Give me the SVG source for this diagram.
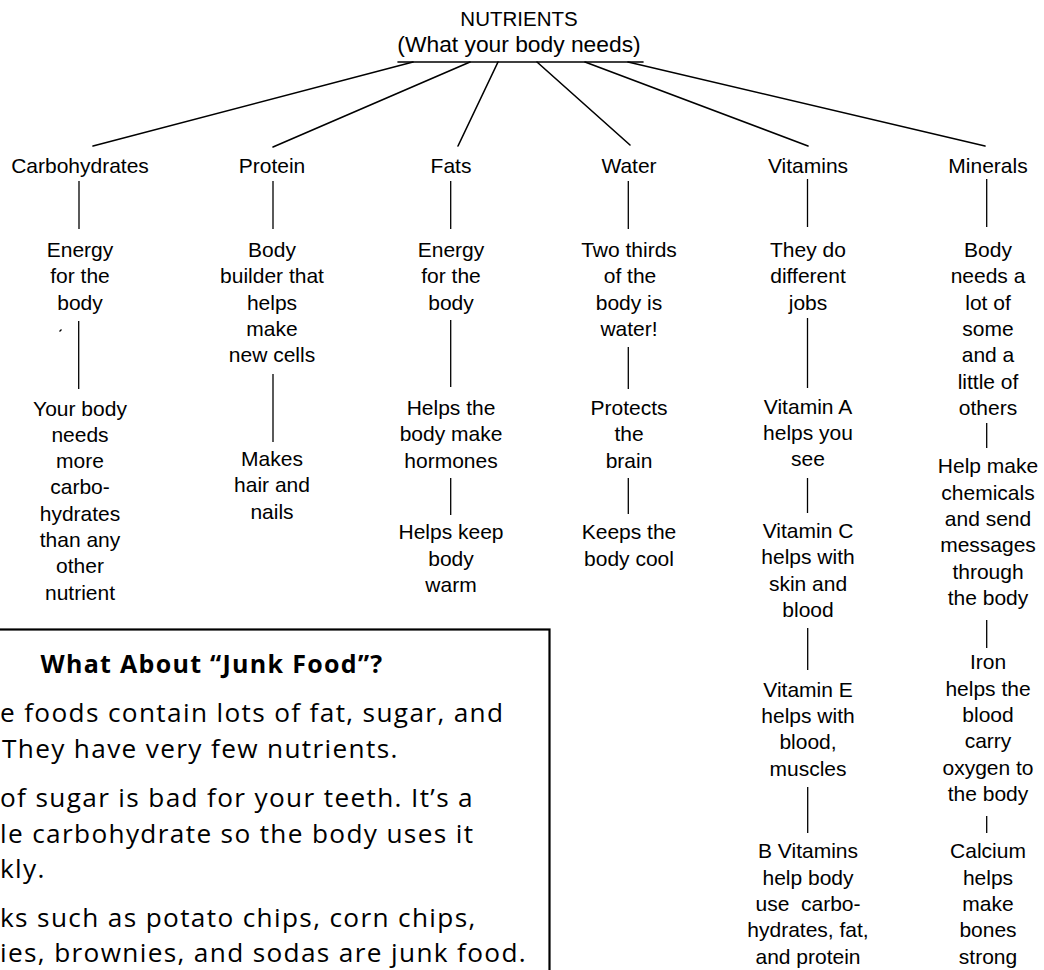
<svg xmlns="http://www.w3.org/2000/svg" width="1044" height="970" viewBox="0 0 1044 970">
<style>
  .lbl { font-family: "Liberation Sans", Arial, sans-serif; font-size: 21px; fill: #000; text-anchor: middle; }
  .ttl { font-family: "Liberation Sans", Arial, sans-serif; fill: #000; text-anchor: middle; }
  .ln { stroke: #000; stroke-width: 1.6; fill: none; stroke-linecap: round; }
  .vl { stroke: #000; stroke-width: 1.3; fill: none; }
  .box { font-family: "Open Sans", "Noto Sans", sans-serif; font-size: 26.2px; letter-spacing: 1.35px; fill: #000; }
  .boxt { font-family: "Open Sans", "Noto Sans", sans-serif; font-size: 25px; letter-spacing: 1.3px; font-weight: bold; fill: #000; text-anchor: middle; }
</style>
<rect width="1044" height="970" fill="#fff"/>

<g id="root">
  <text class="ttl" x="519" y="26" font-size="20.5">NUTRIENTS</text>
  <text class="ttl" x="519" y="52" font-size="22.8">(What your body needs)</text>
  <line class="ln" x1="398" y1="62" x2="643" y2="62"/>
</g>

<g id="connectors">
  <line class="ln" x1="413" y1="62" x2="93" y2="146"/>
  <line class="ln" x1="470" y1="62" x2="273" y2="147"/>
  <line class="ln" x1="498" y1="62" x2="458" y2="146"/>
  <line class="ln" x1="537" y1="62" x2="630" y2="145"/>
  <line class="ln" x1="585" y1="62" x2="808" y2="146"/>
  <line class="ln" x1="628" y1="62" x2="985" y2="146"/>

  <line class="vl" x1="79" y1="181" x2="79" y2="229"/>
  <line class="vl" x1="78.7" y1="321" x2="78.7" y2="389"/>

  <line class="vl" x1="273" y1="181" x2="273" y2="229"/>
  <line class="vl" x1="273" y1="374" x2="273" y2="442"/>

  <line class="vl" x1="450.7" y1="181" x2="450.7" y2="229"/>
  <line class="vl" x1="450.7" y1="320" x2="450.7" y2="387"/>
  <line class="vl" x1="450.7" y1="478" x2="450.7" y2="515"/>

  <line class="vl" x1="628.3" y1="181" x2="628.3" y2="229"/>
  <line class="vl" x1="628.3" y1="347" x2="628.3" y2="389"/>
  <line class="vl" x1="628.3" y1="478" x2="628.3" y2="514"/>

  <line class="vl" x1="807.5" y1="179" x2="807.5" y2="227"/>
  <line class="vl" x1="807.5" y1="318" x2="807.5" y2="388"/>
  <line class="vl" x1="807.5" y1="478" x2="807.5" y2="513"/>
  <line class="vl" x1="807.7" y1="628" x2="807.7" y2="670"/>
  <line class="vl" x1="807.7" y1="787" x2="807.7" y2="833"/>

  <line class="vl" x1="986.7" y1="179" x2="986.7" y2="227"/>
  <line class="vl" x1="986.7" y1="423" x2="986.7" y2="448"/>
  <line class="vl" x1="986.7" y1="620" x2="986.7" y2="648"/>
  <line class="vl" x1="986.7" y1="816" x2="986.7" y2="833"/>
</g>

<path d="M59.5 331.5 L61.5 329.5" stroke="#000" stroke-width="1.2"/>

<g id="carbohydrates">
  <text class="lbl" x="80" y="172.5">Carbohydrates</text>
  <text class="lbl" y="257"><tspan x="80">Energy</tspan><tspan x="80" dy="26.3">for the</tspan><tspan x="80" dy="26.3">body</tspan></text>
  <text class="lbl" y="415.5"><tspan x="80">Your body</tspan><tspan x="80" dy="26.3">needs</tspan><tspan x="80" dy="26.3">more</tspan><tspan x="80" dy="26.3">carbo-</tspan><tspan x="80" dy="26.3">hydrates</tspan><tspan x="80" dy="26.3">than any</tspan><tspan x="80" dy="26.3">other</tspan><tspan x="80" dy="26.3">nutrient</tspan></text>
</g>

<g id="protein">
  <text class="lbl" x="272" y="172.5">Protein</text>
  <text class="lbl" y="257"><tspan x="272">Body</tspan><tspan x="272" dy="26.3">builder that</tspan><tspan x="272" dy="26.3">helps</tspan><tspan x="272" dy="26.3">make</tspan><tspan x="272" dy="26.3">new cells</tspan></text>
  <text class="lbl" y="466"><tspan x="272">Makes</tspan><tspan x="272" dy="26.3">hair and</tspan><tspan x="272" dy="26.3">nails</tspan></text>
</g>

<g id="fats">
  <text class="lbl" x="451" y="172.5">Fats</text>
  <text class="lbl" y="257"><tspan x="451">Energy</tspan><tspan x="451" dy="26.3">for the</tspan><tspan x="451" dy="26.3">body</tspan></text>
  <text class="lbl" y="415"><tspan x="451">Helps the</tspan><tspan x="451" dy="26.3">body make</tspan><tspan x="451" dy="26.3">hormones</tspan></text>
  <text class="lbl" y="539.3"><tspan x="451">Helps keep</tspan><tspan x="451" dy="26.3">body</tspan><tspan x="451" dy="26.3">warm</tspan></text>
</g>

<g id="water">
  <text class="lbl" x="629" y="172.5">Water</text>
  <text class="lbl" y="257"><tspan x="629">Two thirds</tspan><tspan x="630" dy="26.3">of the</tspan><tspan x="629" dy="26.3">body is</tspan><tspan x="629" dy="26.3">water!</tspan></text>
  <text class="lbl" y="415"><tspan x="629">Protects</tspan><tspan x="629" dy="26.3">the</tspan><tspan x="629" dy="26.3">brain</tspan></text>
  <text class="lbl" y="539.3"><tspan x="629">Keeps the</tspan><tspan x="629" dy="26.3">body cool</tspan></text>
</g>

<g id="vitamins">
  <text class="lbl" x="808" y="172.5">Vitamins</text>
  <text class="lbl" y="257"><tspan x="808">They do</tspan><tspan x="808" dy="26.3">different</tspan><tspan x="808" dy="26.3">jobs</tspan></text>
  <text class="lbl" y="413.5"><tspan x="808">Vitamin A</tspan><tspan x="808" dy="26.3">helps you</tspan><tspan x="808" dy="26.3">see</tspan></text>
  <text class="lbl" y="538"><tspan x="808">Vitamin C</tspan><tspan x="808" dy="26.3">helps with</tspan><tspan x="808" dy="26.3">skin and</tspan><tspan x="808" dy="26.3">blood</tspan></text>
  <text class="lbl" y="696.7"><tspan x="808">Vitamin E</tspan><tspan x="808" dy="26.3">helps with</tspan><tspan x="808" dy="26.3">blood,</tspan><tspan x="808" dy="26.3">muscles</tspan></text>
  <text class="lbl" y="858.3" xml:space="preserve"><tspan x="808">B Vitamins</tspan><tspan x="808" dy="26.3">help body</tspan><tspan x="808" dy="26.3">use  carbo-</tspan><tspan x="808" dy="26.3">hydrates, fat,</tspan><tspan x="808" dy="26.3">and protein</tspan></text>
</g>

<g id="minerals">
  <text class="lbl" x="988" y="172.5">Minerals</text>
  <text class="lbl" y="257"><tspan x="988">Body</tspan><tspan x="988" dy="26.3">needs a</tspan><tspan x="988" dy="26.3">lot of</tspan><tspan x="988" dy="26.3">some</tspan><tspan x="988" dy="26.3">and a</tspan><tspan x="988" dy="26.3">little of</tspan><tspan x="988" dy="26.3">others</tspan></text>
  <text class="lbl" y="473.3"><tspan x="988">Help make</tspan><tspan x="988" dy="26.3">chemicals</tspan><tspan x="988" dy="26.3">and send</tspan><tspan x="988" dy="26.3">messages</tspan><tspan x="988" dy="26.3">through</tspan><tspan x="988" dy="26.3">the body</tspan></text>
  <text class="lbl" y="669.3"><tspan x="988">Iron</tspan><tspan x="988" dy="26.3">helps the</tspan><tspan x="988" dy="26.3">blood</tspan><tspan x="988" dy="26.3">carry</tspan><tspan x="988" dy="26.3">oxygen to</tspan><tspan x="988" dy="26.3">the body</tspan></text>
  <text class="lbl" y="858.3"><tspan x="988">Calcium</tspan><tspan x="988" dy="26.3">helps</tspan><tspan x="988" dy="26.3">make</tspan><tspan x="988" dy="26.3">bones</tspan><tspan x="988" dy="26.3">strong</tspan></text>
</g>

<g id="junk-food-box">
  <rect x="-20" y="629.5" width="569.5" height="400" fill="none" stroke="#000" stroke-width="2.2"/>
  <text class="boxt" x="212" y="672.7">What About “Junk Food”?</text>
  <text class="box" x="0" y="721.7">e foods contain lots of fat, sugar, and</text>
  <text class="box" x="2" y="757.7">They have very few nutrients.</text>
  <text class="box" x="0" y="806.7">of sugar is bad for your teeth. It’s a</text>
  <text class="box" x="0" y="842.7">le carbohydrate so the body uses it</text>
  <text class="box" x="0" y="878.3">kly.</text>
  <text class="box" x="0" y="926.7">ks such as potato chips, corn chips,</text>
  <text class="box" x="0" y="962.3">ies, brownies, and sodas are junk food.</text>
</g>
</svg>
